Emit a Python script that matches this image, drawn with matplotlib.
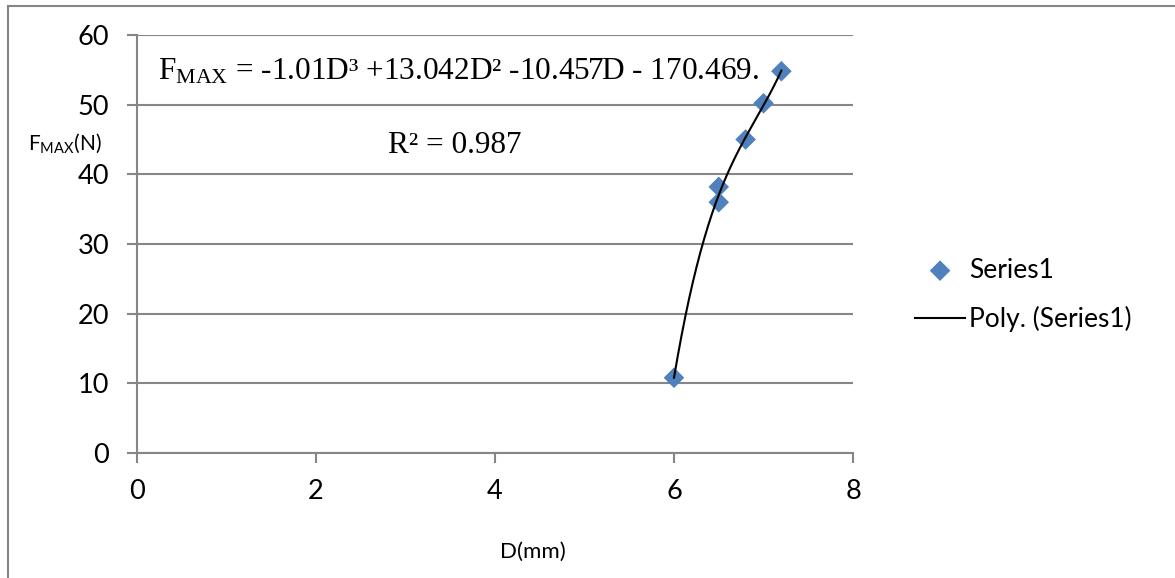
import matplotlib
matplotlib.use("Agg")
import matplotlib.pyplot as plt
from matplotlib.lines import Line2D
import numpy as np

plt.rcParams["font.family"] = ["Lato", "DejaVu Sans"]

# measured diameter vs. max force
d_mm = [6.0, 6.5, 6.5, 6.8, 7.0, 7.2]
f_max = [10.8, 36.0, 38.2, 45.0, 50.2, 54.8]

x_ticks = [0, 2, 4, 6, 8]
y_ticks = [0, 10, 20, 30, 40, 50, 60]

eq_text = "$\\mathregular{F_{MAX}}$ = -1.01D³ +13.042D² -10.457D - 170.469."
r2_text = "R² = 0.987"

W, H = 1175, 578
fig = plt.figure(figsize=(W / 100, H / 100), dpi=100)
ax = fig.add_axes([137 / W, 1 - 453 / H, 716 / W, 418 / H])

grid_c = "#868686"

# polynomial (order 3) trendline through the points
coef = np.polyfit(d_mm, f_max, 3)
xs = np.linspace(min(d_mm), max(d_mm), 200)
ax.plot(xs, np.polyval(coef, xs), color="black", lw=1.5, zorder=4,
        label="Poly. (Series1)")
ax.scatter(d_mm, f_max, marker="D", s=10.5 ** 2, color="#4F81BD",
           edgecolors="none", zorder=3, label="Series1")

ax.set_xlim(0, 8)
ax.set_ylim(0, 60)
ax.set_xticks(x_ticks)
ax.set_yticks(y_ticks)
ax.yaxis.grid(True, color=grid_c, lw=1.5)
ax.set_axisbelow(True)

for s in ("top", "right"):
    ax.spines[s].set_visible(False)
for s in ("left", "bottom"):
    ax.spines[s].set_color(grid_c)
    ax.spines[s].set_linewidth(1.5)
ax.tick_params(axis="both", colors=grid_c, labelcolor="black", length=7,
               width=1.5, labelsize=19.5)
ax.tick_params(axis="y", pad=13)
ax.tick_params(axis="x", pad=12)

ax.set_ylabel("$\\mathregular{F_{MAX}}$(N)", rotation=0, fontsize=15,
              ha="center", va="center")
ax.yaxis.set_label_coords(-0.1006, 0.742)
ax.set_xlabel("D(mm)", fontsize=16,
              family=["Liberation Sans Narrow", "Lato", "DejaVu Sans"])
ax.xaxis.set_label_coords(0.553, -0.213)

serif = ["Liberation Serif", "DejaVu Serif"]
ax.text(0.235, 53.6, eq_text, fontsize=22.5, family=serif, va="baseline")
ax.text(2.80, 43.0, r2_text, fontsize=22.5, family=serif, va="baseline")

leg = ax.legend(handles=[ax.collections[0], ax.lines[0]],
                loc="center left", bbox_to_anchor=(915 / W, 1 - 295 / H),
                bbox_transform=fig.transFigure, frameon=False, fontsize=19,
                handlelength=1.9, handletextpad=0.15, labelspacing=0.9,
                borderpad=0, borderaxespad=0)

# outer chart frame (left and top edges)
fig.add_artist(Line2D([8 / W, 8 / W], [0, 1 - 6 / H], color=grid_c, lw=1.5,
                      transform=fig.transFigure))
fig.add_artist(Line2D([8 / W, 1], [1 - 6 / H, 1 - 6 / H], color=grid_c, lw=1.5,
                      transform=fig.transFigure))

fig.savefig("out.png", dpi=100)
